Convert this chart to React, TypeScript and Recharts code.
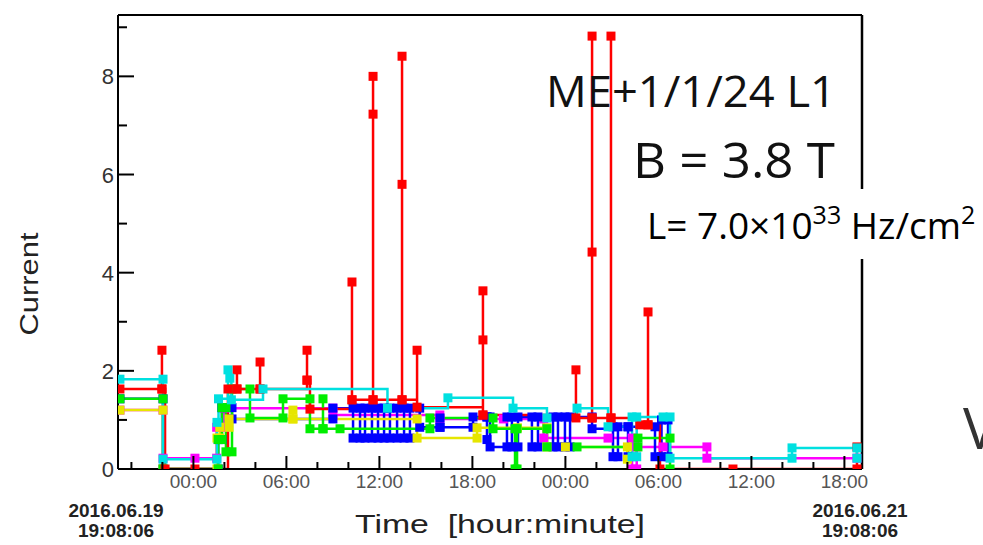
import React from 'react';
import { LineChart, Line, XAxis, YAxis, ReferenceLine } from 'recharts';

// time axis: hours counted from 2016.06.19 00:00, window 19:08:06 -> +48h
const X_MIN = 19.135;
const X_MAX = 67.135;
const Y_MAX = 9.25;

const xTicks = [20, 22, 24, 26, 28, 30, 32, 34, 36, 38, 40, 42, 44, 46, 48, 50, 52, 54, 56, 58, 60, 62, 64, 66];
const yTicks = [0, 1, 2, 3, 4, 5, 6, 7, 8, 9];

// [time, current] pairs per layer
const red: [number, number][] = [
  [19.26, 1.63], [21.97, 1.63], [21.97, 2.42], [21.97, 1.63], [22.17, 0], [24.1, 0], [26.23, 1.63],
  [26.81, 1.63], [26.81, 2.02], [26.81, 1.63], [28.3, 1.63], [28.3, 2.18], [28.3, 1.63],
  [31.33, 1.81], [31.33, 2.42], [31.33, 1.81], [31.52, 1.22], [34.23, 1.41], [34.23, 3.81], [34.23, 1.41],
  [35.59, 1.41], [35.59, 8.0], [35.59, 7.23], [35.59, 1.41], [37.46, 1.41], [37.46, 8.41], [37.46, 5.8], [37.46, 1.41],
  [38.43, 2.42], [38.43, 1.26], [42.68, 1.1], [42.68, 3.63], [42.68, 2.63], [42.68, 1.1],
  [48.68, 2.02], [48.68, 1.04], [49.72, 1.04], [49.72, 8.82], [49.72, 4.42], [49.72, 1.04],
  [50.94, 1.04], [50.94, 8.82], [50.94, 1.04], [52.8, 0.9], [53.33, 0.9], [53.33, 3.2], [53.33, 0.9],
  [54.1, 0], [58.81, 0], [66.81, 0], [66.81, 0.45],
];

const magenta: [number, number][] = [
  [19.26, 1.2], [22.04, 1.2], [22.04, 0.22], [24.1, 0.22], [25.5, 0.22], [25.5, 0.85], [26.0, 0.85], [26.0, 1.24],
  [33.0, 1.24], [33.0, 1.1], [39.9, 1.1], [39.9, 1.02], [44.0, 1.02], [46.6, 1.02], [46.6, 0.63], [50.75, 0.63],
  [52.3, 0.63], [52.3, 0], [52.6, 0], [52.6, 0.45], [54.3, 0.45], [57.13, 0.45], [57.13, 0.22], [66.81, 0.22],
];

const blue: [number, number][] = [
  [19.26, 1.43], [22.04, 1.43], [22.04, 0], [25.6, 0], [25.6, 0.6], [25.84, 0.6], [25.84, 1.25], [26.49, 1.25],
  [26.49, 1.02], [33.0, 1.02], [33.0, 1.24], [34.3, 1.24], [34.3, 0.63], [34.75, 0.63], [34.75, 1.24],
  [35.07, 1.24], [35.07, 0.63], [35.52, 0.63], [35.52, 1.24], [35.91, 1.24], [35.91, 0.63], [36.3, 0.63],
  [36.3, 1.24], [36.68, 1.24], [36.68, 0.63], [37.14, 0.63], [37.14, 1.24], [37.59, 1.24], [37.59, 0.63],
  [37.97, 0.63], [37.97, 1.24], [38.6, 1.24], [38.6, 0.85], [39.91, 0.85], [39.91, 1.04], [39.91, 0.85],
  [42.04, 0.85], [42.04, 1.06], [42.94, 1.06], [42.94, 0.6], [42.94, 1.06], [43.14, 1.06], [43.14, 0.45],
  [44.23, 0.45], [44.23, 1.06], [44.55, 1.06], [44.55, 0.45], [44.94, 0.45], [44.94, 1.06], [45.84, 1.06],
  [45.84, 0.45], [46.23, 0.45], [46.23, 1.06], [47.2, 1.06], [47.2, 0.45], [47.52, 0.45], [47.52, 1.06],
  [47.97, 1.06], [47.97, 0.45], [48.3, 0.45], [48.3, 1.06], [49.72, 1.06], [49.72, 0.82], [51.07, 0.86],
  [51.07, 0.25], [51.39, 0.25], [51.39, 0.86], [52.04, 0.86], [52.04, 0.25], [52.04, 0.86], [53.78, 0.86],
  [53.78, 0.25], [54.2, 0.25], [54.2, 1.0], [54.62, 1.0], [54.62, 0.25],
];

const yellow: [number, number][] = [
  [19.26, 1.2], [22.04, 1.2], [22.04, 0], [25.52, 0], [25.52, 0.63], [25.7, 0.63], [25.7, 0.85], [26.3, 0.85],
  [26.3, 1.02], [30.42, 1.02], [30.42, 1.2], [30.42, 1.02], [38.43, 1.02], [38.43, 0.63], [42.3, 0.63],
  [42.3, 0.84], [44.9, 0.84], [46.81, 0.84], [46.81, 0.45], [48.0, 0.45], [52.0, 0.45], [52.0, 0.2],
];

const green: [number, number][] = [
  [19.26, 1.43], [22.04, 1.43], [22.04, 0], [25.6, 0], [25.6, 0.6], [25.84, 0.6], [25.84, 1.25], [26.1, 1.25],
  [26.1, 0.35], [26.49, 0.35], [26.49, 1.63], [27.65, 1.63], [27.65, 1.04], [29.78, 1.04], [29.78, 1.43],
  [31.52, 1.43], [31.52, 0.82], [32.36, 0.82], [32.36, 1.43], [32.36, 0.82], [33.46, 0.82], [39.26, 0.82],
  [39.26, 1.04], [43.33, 1.04], [43.33, 0.82], [44.75, 0.82], [44.75, 0], [44.88, 0], [44.88, 0.82],
  [46.81, 0.82], [46.81, 0.45], [48.75, 0.45], [52.68, 0.45], [52.68, 0.63], [54.75, 0.63], [54.75, 0],
];

const cyan: [number, number][] = [
  [19.26, 1.83], [22.04, 1.83], [22.04, 0.2], [25.52, 0.2], [25.52, 0.95], [25.62, 1.43], [26.23, 2.02],
  [26.35, 1.85], [26.45, 1.41], [28.49, 1.63], [36.52, 1.24], [40.42, 1.45], [44.62, 1.24], [46.81, 1.04],
  [48.75, 1.24], [50.75, 0.86], [52.3, 1.06], [52.3, 0.25], [52.6, 0.25], [52.6, 1.06], [54.3, 1.06],
  [54.75, 1.06], [54.75, 0.22], [62.62, 0.22], [62.62, 0.43], [66.81, 0.43], [66.81, 0.22],
];

const layers = [
  { name: 'magenta', color: '#ff00ff', pts: magenta },
  { name: 'blue', color: '#0000ff', pts: blue },
  { name: 'yellow', color: '#e6e600', pts: yellow },
  { name: 'green', color: '#00ee00', pts: green },
  { name: 'red', color: '#ff0000', pts: red },
  { name: 'cyan', color: '#00e0e0', pts: cyan },
];

const fmtHour = (h: number) => {
  const hh = ((h % 24) + 24) % 24;
  return `${String(hh).padStart(2, '0')}:00`;
};

const XTick = (props: any) => {
  const { x, y, payload } = props;
  const major = payload.value % 6 === 0;
  return (
    <g>
      <line x1={x} x2={x} y1={y} y2={y - (major ? 13 : 7)} stroke="#000" strokeWidth={2} />
      {major && (
        <text x={x} y={y + 19} textAnchor="middle" fontSize={19} fill="#555" fontFamily="Liberation Sans, Arial, sans-serif">
          {fmtHour(payload.value)}
        </text>
      )}
    </g>
  );
};

const YTick = (props: any) => {
  const { x, y, payload } = props;
  const major = payload.value % 2 === 0;
  return (
    <g>
      <line x1={x} x2={x + (major ? 16 : 9)} y1={y} y2={y} stroke="#000" strokeWidth={2} />
      {major && (
        <text x={x - 4} y={y + 8} textAnchor="end" fontSize={22} fill="#333" fontFamily="Liberation Sans, Arial, sans-serif">
          {payload.value}
        </text>
      )}
    </g>
  );
};

const font = 'Liberation Sans, Arial, sans-serif';
const slideFont = '"Open Sans", "Noto Sans", sans-serif';

export default function App() {
  return (
    <div style={{ position: 'absolute', left: 0, top: 0, width: 983, height: 545, background: '#fff', overflow: 'hidden' }}>
      <LineChart width={983} height={545} margin={{ top: 15, right: 121, bottom: 46, left: 58 }}>
        <XAxis
          dataKey="t"
          type="number"
          domain={[X_MIN, X_MAX]}
          ticks={xTicks}
          interval={0}
          allowDataOverflow
          height={30}
          tickSize={0}
          tickMargin={0}
          tickLine={false}
          axisLine={{ stroke: '#000', strokeWidth: 2 }}
          tick={<XTick />}
        />
        <YAxis
          dataKey="v"
          type="number"
          domain={[0, Y_MAX]}
          ticks={yTicks}
          interval={0}
          allowDataOverflow
          width={60}
          tickSize={0}
          tickMargin={0}
          tickLine={false}
          axisLine={{ stroke: '#000', strokeWidth: 2 }}
          tick={<YTick />}
        />
        <ReferenceLine y={Y_MAX} stroke="#000" strokeWidth={2} />
        <ReferenceLine x={X_MAX} stroke="#000" strokeWidth={2.5} />
        {layers.map((s) => (
          <Line
            key={s.name}
            data={s.pts.map(([t, v]) => ({ t, v }))}
            dataKey="v"
            type="stepAfter"
            stroke={s.color}
            strokeWidth={2.5}
            isAnimationActive={false}
            activeDot={false}
            dot={(p: any) => (
              <rect
                key={`${s.name}-${p.index}`}
                x={(p.cx ?? 0) - 4.5}
                y={(p.cy ?? 0) - 4.5}
                width={9}
                height={9}
                fill={s.color}
              />
            )}
          />
        ))}
      </LineChart>
      <svg width={983} height={545} style={{ position: 'absolute', left: 0, top: 0, pointerEvents: 'none' }}>
        <text transform="translate(38,284) rotate(-90)" textAnchor="middle" fontSize={26} textLength={103} lengthAdjust="spacingAndGlyphs" fill="#222" fontFamily={font}>
          Current
        </text>
        <text x={500} y={533} textAnchor="middle" fontSize={25} textLength={290} lengthAdjust="spacingAndGlyphs" fill="#222" fontFamily={font}>
          {'Time\u00a0\u00a0[hour:minute]'}
        </text>
        <text x={116} y={517} textAnchor="middle" fontSize={19} fontWeight="bold" fill="#222" fontFamily={font}>2016.06.19</text>
        <text x={116} y={537} textAnchor="middle" fontSize={19} fontWeight="bold" fill="#222" fontFamily={font}>19:08:06</text>
        <text x={860} y={517} textAnchor="middle" fontSize={19} fontWeight="bold" fill="#222" fontFamily={font}>2016.06.21</text>
        <text x={860} y={537} textAnchor="middle" fontSize={19} fontWeight="bold" fill="#222" fontFamily={font}>19:08:06</text>

        <text x={546} y={107} fontSize={44} textLength={290} lengthAdjust="spacingAndGlyphs" fill="#111" fontFamily={slideFont}>
          ME+1/1/24 L1
        </text>
        <text x={633} y={178} fontSize={50} textLength={202} lengthAdjust="spacingAndGlyphs" fill="#111" fontFamily={slideFont}>
          B = 3.8 T
        </text>
        <rect x={640} y={189} width={343} height={70} fill="#fff" />
        <text x={647} y={239} fontSize={37} fill="#000" fontFamily={slideFont}>
          L= 7.0×10
          <tspan fontSize={25} dy={-15}>33</tspan>
          <tspan dy={15}> Hz/cm</tspan>
          <tspan fontSize={25} dy={-15}>2</tspan>
        </text>
        <text x={963} y={449} fontSize={56} fill="#333" fontFamily={slideFont}>V</text>
      </svg>
    </div>
  );
}
